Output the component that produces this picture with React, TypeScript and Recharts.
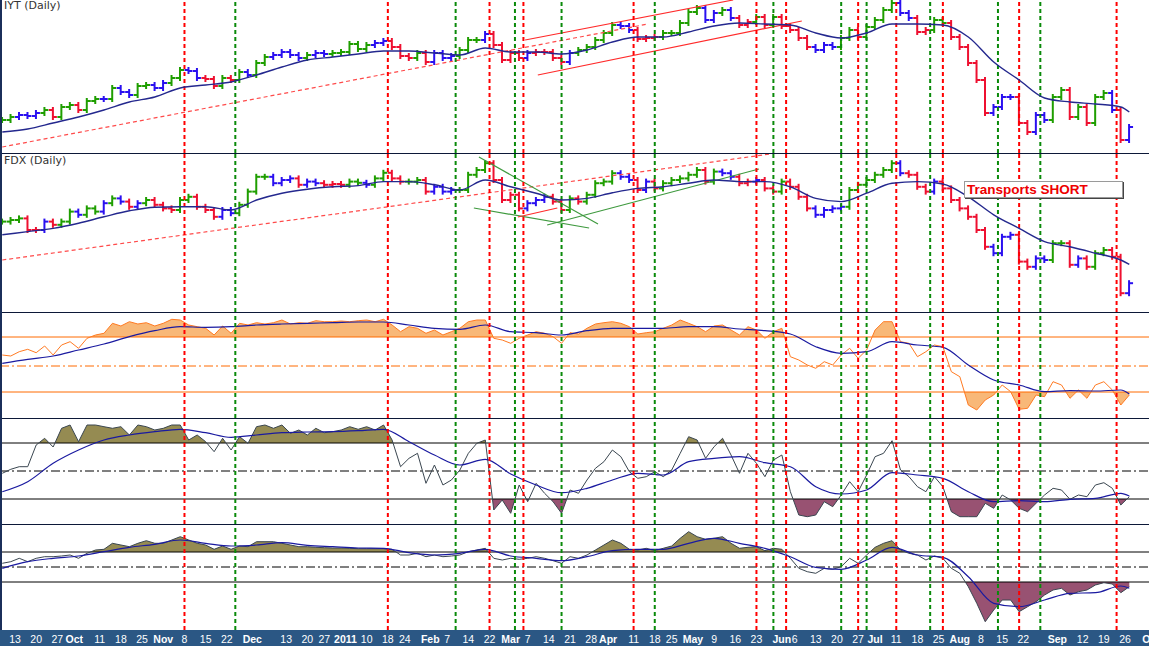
import React from "react";
import { ComposedChart, Line, Area, Bar, XAxis, YAxis, ReferenceLine } from "recharts";

// trading-day index 0 = 8 Sep 2010; bars sampled every 2 trading days
const BAR_STEP = 2;
const MA_STEP = 6;

const IYT_CLOSE = [
  83.0, 83.3, 83.5, 83.4, 83.7, 84.0, 83.3, 84.3, 84.5, 84.0,
  84.9, 85.1, 85.1, 86.2, 85.8, 85.5, 86.4, 86.5, 86.2, 86.7,
  87.2, 88.0, 87.9, 87.2, 87.1, 86.4, 87.2, 87.0, 87.8, 87.5,
  88.7, 89.3, 89.5, 89.8, 89.5, 89.2, 89.5, 89.7, 89.6, 89.7,
  89.8, 90.6, 90.1, 90.5, 90.7, 90.9, 90.3, 89.4, 89.2, 89.7,
  88.8, 89.7, 89.2, 89.4, 90.0, 91.0, 91.0, 91.6, 90.5, 89.0,
  89.7, 89.2, 89.7, 89.8, 89.8, 89.2, 88.8, 89.7, 90.0, 90.3,
  91.0, 91.7, 92.5, 92.4, 92.0, 91.1, 91.2, 91.3, 91.7, 91.7,
  92.7, 93.8, 94.2, 93.0, 93.7, 94.0, 93.2, 92.5, 92.8, 93.3,
  92.5, 93.3, 92.4, 92.0, 91.2, 90.3, 90.0, 90.5, 90.3, 91.2,
  92.0, 91.3, 92.3, 93.0, 94.0, 94.7, 93.7, 93.2, 91.8, 92.0,
  93.0, 92.7, 91.3, 90.3, 88.7, 87.0, 83.7, 84.3, 85.3, 85.3,
  82.7, 81.8, 83.5, 83.0, 85.3, 86.0, 83.3, 84.3, 82.7, 85.3,
  85.7, 84.0, 81.0, 82.3,
];
const IYT_COLORS =
  "ggbbbgrggr" + "ggbgbbggbb" + "ggbbrrgrgb" + "ggbbbbgbbg" + "ggggbbrrrg" +
  "rbbbgggbrr" + "rrbrrrrbgg" + "gggbbrrrgg" + "gggbbgbrrg" + "rgrrrrbbbg" +
  "grggggbbrr" + "ggrrrrrbbb" + "rrbbggrgrg" + "gbrb";
const IYT_MA = [
  81.8, 82.1, 82.7, 83.3, 84.0, 84.8, 85.3, 86.2, 86.5, 86.8,
  87.5, 88.3, 89.0, 89.3, 89.6, 89.9, 89.9, 89.7, 89.5, 90.2,
  89.8, 89.8, 89.6, 90.0, 90.8, 91.3, 91.3, 91.8, 92.4, 92.7,
  92.6, 92.5, 91.7, 91.2, 91.7, 92.6, 92.6, 92.5, 91.3, 88.8,
  87.0, 85.2, 84.8, 84.6, 84.3, 83.8,
];

const FDX_CLOSE = [
  74.6, 75.0, 75.4, 72.5, 72.5, 74.6, 73.8, 74.6, 77.1, 76.3,
  77.9, 77.1, 79.2, 80.4, 79.6, 78.3, 79.2, 80.0, 78.8, 77.9,
  77.5, 80.0, 80.8, 78.3, 77.5, 75.8, 77.5, 76.7, 78.8, 82.1,
  85.8, 85.8, 84.2, 85.0, 85.4, 83.8, 84.6, 84.2, 83.8, 84.0,
  83.8, 84.6, 84.3, 83.8, 85.4, 86.8, 85.4, 84.6, 84.6, 85.0,
  82.1, 83.3, 82.1, 82.5, 82.5, 86.3, 87.5, 89.2, 85.0, 80.0,
  81.3, 77.9, 79.2, 80.0, 80.8, 79.6, 77.5, 80.4, 79.6, 81.3,
  84.2, 84.6, 86.7, 85.8, 85.0, 82.5, 84.6, 82.9, 84.2, 85.0,
  85.4, 86.3, 87.5, 84.6, 87.1, 86.7, 85.8, 84.2, 84.6, 85.0,
  82.9, 82.1, 84.6, 83.3, 80.8, 77.9, 76.3, 77.5, 77.9, 78.3,
  82.5, 83.8, 85.0, 86.3, 87.5, 89.2, 86.7, 86.3, 83.3, 82.1,
  84.6, 82.9, 80.0, 77.9, 75.8, 72.5, 68.3, 66.7, 70.8, 71.3,
  64.6, 63.3, 65.4, 65.0, 69.2, 69.2, 63.8, 65.4, 63.3, 66.7,
  67.5, 65.8, 56.7, 59.2,
];
const FDX_COLORS =
  "gggrrbrggb" + "ggbgbrbgrr" + "rggrrrbbgg" + "ggbbbrbbrr" + "rggbggrrgg" +
  "rbbbggggrr" + "rrbbbrrgrg" + "gggbbrbrgg" + "gggrgbbrrb" + "rrgrrrbbbb" +
  "ggggggbrrr" + "brrrrrrbbb" + "rrbbggrbrg" + "grrb";
const FDX_MA = [
  71.3, 72.1, 72.9, 74.2, 75.8, 77.3, 78.2, 78.3, 78.3, 77.5,
  80.0, 81.7, 82.7, 83.3, 83.6, 84.6, 84.6, 83.8, 82.5, 85.0,
  83.3, 81.7, 80.0, 80.4, 81.8, 82.9, 83.3, 84.2, 85.0, 84.6,
  84.6, 83.3, 80.4, 79.6, 81.7, 84.2, 84.6, 84.0, 80.8, 76.3,
  72.9, 69.6, 68.3, 66.7, 65.0, 63.9,
];

const IND1 = [
  63, 62, 66.3, 68.7, 65.3, 72, 63, 73, 76.3, 69.7,
  79.7, 83, 84.7, 94.7, 92, 96.3, 94, 95.3, 92, 94.7,
  98.7, 98, 93, 91.3, 89.7, 83, 92, 84.7, 94.7, 93,
  95.3, 94, 95.3, 98, 94, 95.3, 94.7, 97.3, 96.3, 96.3,
  97, 96.3, 97.3, 98, 96.3, 98.7, 93, 86.3, 91.3, 89.7,
  84.7, 88, 83, 86.3, 89.7, 96.3, 98, 98, 79.7, 78,
  74.7, 79.7, 83, 86.3, 84.7, 81.3, 74.7, 85.3, 84, 89.7,
  94, 95.3, 96.3, 94.7, 91.3, 84, 85.3, 86.3, 89.7, 93,
  98, 94.7, 91.3, 86.3, 92, 93, 88, 83, 91.3, 88,
  79.7, 86.3, 89.7, 61.3, 58, 53, 49.7, 56.3, 53, 63,
  69.7, 59.7, 68, 88, 96.3, 96.3, 76.3, 74.7, 61.3, 66.3,
  73, 71.3, 46.3, 41.3, 13, 8, 18, 23, 33, 26.3,
  8.7, 9.7, 23, 21.3, 36.3, 33, 19.7, 28, 19.7, 33,
  36.3, 28, 13, 23,
];
const IND1_MA = [
  54.7, 58.7, 62, 68, 74, 81.3, 87.3, 91.3, 90.7, 91.3,
  93, 94, 94.7, 95.3, 96, 96, 93, 89.7, 88.7, 93,
  86.3, 85.3, 83, 87.3, 89.7, 89.7, 89.7, 91.3, 91.3, 89,
  87.3, 84, 71.3, 64.7, 66.3, 76.3, 73, 70.7, 53, 38,
  33, 26.3, 27.3, 27, 28, 24,
];

const IND2 = [
  50.7, 54.7, 57.3, 57.3, 79, 85.7, 77, 95.7, 99, 82.3,
  99, 99, 97.3, 95.7, 97.3, 89, 99, 97.3, 94, 95.7,
  99, 99, 84, 89, 82.3, 72.3, 85.7, 74, 87.3, 80.7,
  97.3, 99, 95.7, 99, 90.7, 94, 89, 95.7, 91.3, 92.3,
  94, 97.3, 94.7, 97.3, 94, 99, 84, 57.3, 65.7, 70.7,
  40.7, 59, 39, 44, 54, 70.7, 80.7, 84, 14, 24,
  10.7, 39, 22.3, 40.7, 30.7, 22.3, 10.7, 34, 30.7, 44,
  55.7, 62.3, 74, 67.3, 52.3, 45.7, 47.3, 52.3, 47.3, 54,
  70.7, 87.3, 84, 65.7, 77.3, 85.7, 69, 50.7, 70.7, 60.7,
  47.3, 64, 69, 32.3, 9, 7.3, 9, 22.3, 17.3, 29,
  42.3, 32.3, 49, 67.3, 70.7, 83.3, 54, 47.3, 37.3, 32.3,
  47.3, 37.3, 12.3, 7.3, 7.3, 7.3, 20.7, 15.7, 29, 24,
  15.7, 12.3, 20.7, 29, 35.7, 34, 24.7, 29, 27.3, 39,
  41.3, 35.7, 19, 27.3,
];
const IND2_MA = [
  32.3, 42.3, 60.7, 74, 84, 89, 92.3, 94.7, 91.3, 86.7,
  89, 91.3, 92, 92.3, 93.3, 94.7, 82.3, 69, 59, 64.7,
  50, 39, 31.3, 35.7, 44, 50.7, 49, 62.3, 65.7, 67.3,
  61.3, 57.3, 37.3, 30, 34, 51.3, 49, 45.7, 32.3, 22.3,
  23.3, 22.3, 24.7, 25.7, 30.7, 28,
];

const IND3 = [
  65.7, 67.3, 70.7, 67.3, 70.7, 72.3, 72.3, 73, 74, 70.7,
  75.7, 79, 79.7, 85.7, 84, 82.3, 85.7, 88.3, 85.7, 85.7,
  89, 92.3, 89, 85.7, 84, 79.7, 83, 79.7, 83, 82.3,
  87.3, 87.3, 87.3, 85.7, 84, 82.3, 82.3, 81.7, 81.3, 81,
  81, 80.7, 80.3, 80.3, 80.3, 80.3, 79.7, 74, 74, 75.7,
  72.3, 74, 72.3, 73, 74, 77.3, 79, 80.7, 70.7, 69,
  70.7, 69.7, 70.7, 72.3, 70.7, 68.3, 65.7, 72.3, 70.7, 74,
  79, 84, 89, 85.7, 79.7, 79, 80.7, 78.3, 80.7, 83,
  90.7, 97.3, 92.3, 89.7, 90.7, 92.3, 85.7, 80.7, 81.7, 82.3,
  78.3, 80.7, 79.7, 70.7, 60.7, 57.3, 55.7, 60.7, 59.7, 62.3,
  70.7, 65.7, 74, 81.7, 85.7, 88.3, 79, 75.7, 74, 69,
  73, 70.7, 60.7, 55.7, 42.3, 25.7, 7.3, 19, 29, 29,
  17.3, 22.3, 27.3, 34, 39, 40.7, 34, 37.3, 39, 44,
  46.3, 45, 36.3, 42.3,
];
const IND3_MA = [
  60.7, 67.3, 70.7, 73, 77.3, 81.7, 84.7, 89, 85.7, 83,
  84, 86.3, 83.7, 82.3, 81, 80.7, 76.3, 74, 75.7, 79.7,
  73, 70.7, 68.3, 72.3, 78.3, 79.7, 79.7, 85.7, 90.7, 85.7,
  80.7, 72.3, 61.7, 59.7, 69, 81.7, 74, 71.7, 52.3, 25.7,
  22.3, 29, 35.7, 36.3, 43, 40.7,
];

// signal days (trading-day index)
const RED_DAYS = [43, 91, 115, 123, 149, 178, 185, 202, 211, 222, 240, 263];
const GREEN_DAYS = [55, 107, 121, 132, 154, 182, 198, 204, 219, 235, 245];

const TICK_DAYS = [
  3, 8, 13, 17, 23, 28, 33, 38, 43, 48, 53, 59, 67, 72, 76, 81, 86, 91, 95, 101,
  105, 110, 115, 120, 124, 129, 134, 139, 143, 149, 154, 158, 163, 168, 173, 178,
  184, 187, 192, 197, 202, 206, 211, 216, 221, 226, 231, 236, 241, 249, 255, 260, 265, 270,
];
const TICK_LABELS = [
  "13", "20", "27", "Oct", "11", "18", "25", "Nov", "8", "15", "22", "Dec", "13", "20", "27", "2011", "10", "18", "24", "Feb",
  "7", "14", "22", "Mar", "7", "14", "21", "28", "Apr", "11", "18", "25", "May", "9", "16", "23",
  "Jun", "6", "13", "20", "27", "Jul", "11", "18", "25", "Aug", "8", "15", "22", "Sep", "12", "19", "26", "O",
];

// trend lines drawn on the price panels (day index, price)
const IYT_TRENDS = [
  { from: [0, 80.3], to: [152.4, 92.6], color: "#ff4a4a", dash: "4 3" },
  { from: [123.4, 91.0], to: [172.5, 95.0], color: "#ff2a2a", dash: undefined },
  { from: [126.4, 87.5], to: [188.7, 92.9], color: "#ff2a2a", dash: undefined },
];
const FDX_TRENDS = [
  { from: [0, 65.0], to: [181.2, 91.5], color: "#ff4a4a", dash: "4 3" },
  { from: [112.5, 90.75], to: [140.6, 74.0], color: "#3f9a3f", dash: undefined },
  { from: [111.3, 78.0], to: [138.5, 73.0], color: "#3f9a3f", dash: undefined },
  { from: [128.6, 73.75], to: [178.6, 87.75], color: "#3f9a3f", dash: undefined },
  { from: [121.7, 75.75], to: [131.0, 78.0], color: "#ff2a2a", dash: undefined },
];

const W = 1149;
const X_DOMAIN: [number, number] = [-0.54, 270.65];
const BAR_COLORS: Record<string, string> = { g: "#1f9e00", b: "#2a10f0", r: "#ee1030" };
const MA_COLOR = "#24288e";
const FONT = "'Liberation Sans', Arial, sans-serif";

const LAST_DAY = (IYT_CLOSE.length - 1) * BAR_STEP;

const rows: any[] = IYT_CLOSE.map((c, k) => {
  const io = k > 0 ? IYT_CLOSE[k - 1] : c;
  const f = FDX_CLOSE[k];
  const fo = k > 0 ? FDX_CLOSE[k - 1] : f;
  return {
    day: k * BAR_STEP,
    iytR: [Math.min(io, c), Math.max(io, c)],
    iytO: io,
    iytC: c,
    iytCol: IYT_COLORS[k],
    fdxR: [Math.min(fo, f), Math.max(fo, f)],
    fdxO: fo,
    fdxC: f,
    fdxCol: FDX_COLORS[k],
    ind1: IND1[k],
    ind2: IND2[k],
    ind3: IND3[k],
  };
});
IYT_MA.forEach((_, m) => {
  const row = rows[Math.min(m * MA_STEP, LAST_DAY) / BAR_STEP];
  row.iytMa = IYT_MA[m];
  row.fdxMa = FDX_MA[m];
  row.ind1Ma = IND1_MA[m];
  row.ind2Ma = IND2_MA[m];
  row.ind3Ma = IND3_MA[m];
});

const OhlcBar = (props: any) => {
  const { x, y, width, height, payload, tkr } = props;
  if (x == null || y == null || !payload) return null;
  const o = payload[tkr + "O"];
  const c = payload[tkr + "C"];
  const hi = Math.max(o, c);
  const lo = Math.min(o, c);
  const h = height || 0;
  const pos = (v: number) => (hi === lo ? y : y + ((hi - v) / (hi - lo)) * h);
  const cx = x + width / 2;
  const col = BAR_COLORS[payload[tkr + "Col"]] || BAR_COLORS.b;
  return (
    <g stroke={col} strokeWidth={2}>
      <line x1={cx} x2={cx} y1={y - 3} y2={y + h + 3} />
      <line x1={cx - 4} x2={cx} y1={pos(o)} y2={pos(o)} />
      <line x1={cx} x2={cx + 4} y1={pos(c)} y2={pos(c)} />
    </g>
  );
};

const signalLines = () => [
  ...RED_DAYS.map((d) => (
    <ReferenceLine key={"r" + d} x={d} stroke="#ff0000" strokeWidth={2} strokeDasharray="4 3" />
  )),
  ...GREEN_DAYS.map((d) => (
    <ReferenceLine key={"g" + d} x={d} stroke="#0a8a0a" strokeWidth={2} strokeDasharray="4 3" />
  )),
];

const PricePanel = ({ top, height, domain, tkr, trends }: any) => (
  <div style={{ position: "absolute", left: 0, top, width: W, height }}>
    <ComposedChart width={W} height={height} data={rows} margin={{ top: 0, right: 0, bottom: 0, left: 0 }}>
      <XAxis type="number" dataKey="day" domain={X_DOMAIN} allowDataOverflow hide />
      <YAxis type="number" domain={domain} allowDataOverflow hide />
      {trends.map((t: any, k: number) => (
        <ReferenceLine
          key={k}
          segment={[{ x: t.from[0], y: t.from[1] }, { x: t.to[0], y: t.to[1] }]}
          stroke={t.color}
          strokeWidth={1.2}
          strokeDasharray={t.dash}
          ifOverflow="hidden"
        />
      ))}
      {signalLines()}
      <Line
        type="monotone"
        dataKey={tkr + "Ma"}
        stroke={MA_COLOR}
        strokeWidth={1.4}
        dot={false}
        connectNulls
        isAnimationActive={false}
      />
      <Bar dataKey={tkr + "R"} barSize={4} isAnimationActive={false} shape={(p: any) => <OhlcBar {...p} tkr={tkr} />} />
    </ComposedChart>
  </div>
);

const AxisTick = (props: any) => {
  const { x, payload } = props;
  const k = TICK_DAYS.indexOf(payload.value);
  const label = TICK_LABELS[k] ?? "";
  const bold = /[A-Za-z]/.test(label) || label.length === 4;
  return (
    <text x={x} y={119} textAnchor="middle" fill="#ffffff" fontSize={10.5} fontWeight={bold ? 700 : 400} fontFamily={FONT}>
      {label}
    </text>
  );
};

const IndicatorPanel = ({
  id, top, domain, vKey, maKey, upTh, midTh, lowTh, upFill, lowFill, lineColor, refColor, withAxis,
}: any) => {
  const plotH = 106;
  const frac = (th: number) => (domain[1] - th) / (domain[1] - domain[0]);
  const height = withAxis ? plotH + 16 : plotH;
  return (
    <div style={{ position: "absolute", left: 0, top, width: W, height }}>
      <ComposedChart width={W} height={height} data={rows} margin={{ top: 0, right: 0, bottom: 0, left: 0 }}>
        <defs>
          <linearGradient id={id + "up"} x1="0" y1="0" x2="0" y2={plotH} gradientUnits="userSpaceOnUse">
            <stop offset={frac(upTh)} stopColor={upFill} stopOpacity={1} />
            <stop offset={frac(upTh)} stopColor={upFill} stopOpacity={0} />
          </linearGradient>
          <linearGradient id={id + "low"} x1="0" y1="0" x2="0" y2={plotH} gradientUnits="userSpaceOnUse">
            <stop offset={frac(lowTh)} stopColor={lowFill} stopOpacity={0} />
            <stop offset={frac(lowTh)} stopColor={lowFill} stopOpacity={1} />
          </linearGradient>
        </defs>
        <XAxis
          type="number"
          dataKey="day"
          domain={X_DOMAIN}
          allowDataOverflow
          hide={!withAxis}
          height={16}
          ticks={TICK_DAYS}
          interval={0}
          axisLine={false}
          tickLine={false}
          tick={<AxisTick />}
        />
        <YAxis type="number" domain={domain} allowDataOverflow hide />
        <ReferenceLine y={upTh} stroke={refColor} strokeWidth={1} />
        <ReferenceLine y={midTh} stroke={refColor} strokeWidth={1} strokeDasharray="9 3 2 3" />
        <ReferenceLine y={lowTh} stroke={refColor} strokeWidth={1} />
        <Area type="linear" dataKey={vKey} baseValue={upTh} stroke="none" fill={`url(#${id}up)`} fillOpacity={1} isAnimationActive={false} />
        <Area type="linear" dataKey={vKey} baseValue={lowTh} stroke="none" fill={`url(#${id}low)`} fillOpacity={1} isAnimationActive={false} />
        <Line type="linear" dataKey={vKey} stroke={lineColor} strokeWidth={1} dot={false} isAnimationActive={false} />
        <Line
          type="monotone"
          dataKey={maKey}
          stroke="#1a1aa0"
          strokeWidth={1.2}
          dot={false}
          connectNulls
          isAnimationActive={false}
        />
        {signalLines()}
      </ComposedChart>
    </div>
  );
};

const hLine = (top: number) => (
  <div key={top} style={{ position: "absolute", left: 0, top, width: W, height: 1, background: "#0c1838" }} />
);

export default function App() {
  return (
    <div style={{ position: "relative", width: W, height: 646, background: "#fff", overflow: "hidden" }}>
      <style>{"body{margin:0;background:#fff}"}</style>
      <div style={{ position: "absolute", left: 0, top: 630, width: W, height: 16, background: "#2b5784" }} />
      <PricePanel top={0} height={153} domain={[79.7, 95]} tkr="iyt" trends={IYT_TRENDS} />
      <PricePanel top={153} height={159} domain={[52, 91.75]} tkr="fdx" trends={FDX_TRENDS} />
      <IndicatorPanel
        id="p3" top={312} domain={[0, 106]} vKey="ind1" maKey="ind1Ma"
        upTh={81} midTh={52} lowTh={26} upFill="#f8b878" lowFill="#f8b878" lineColor="#ff7a22" refColor="#ff6a00"
      />
      <IndicatorPanel
        id="p4" top={418} domain={[0, 106]} vKey="ind2" maKey="ind2Ma"
        upTh={81} midTh={53} lowTh={25} upFill="#958b52" lowFill="#985272" lineColor="#3a4650" refColor="#000000"
      />
      <IndicatorPanel
        id="p5" top={524} domain={[-1, 105]} vKey="ind3" maKey="ind3Ma"
        upTh={77} midTh={62} lowTh={47} upFill="#958b52" lowFill="#985272" lineColor="#3a4650" refColor="#000000" withAxis
      />
      {[153, 312, 418, 524].map(hLine)}
      <div style={{ position: "absolute", left: 0, top: 0, width: 2, height: 630, background: "#1b2f5a" }} />
      <div style={{ position: "absolute", left: 4, top: 0, lineHeight: "12px", fontFamily: "'DejaVu Sans', Verdana, sans-serif", fontSize: 11, color: "#333" }}>
        IYT (Daily)
      </div>
      <div style={{ position: "absolute", left: 4, top: 155, lineHeight: "12px", fontFamily: "'DejaVu Sans', Verdana, sans-serif", fontSize: 11, color: "#333" }}>
        FDX (Daily)
      </div>
      <div
        style={{
          position: "absolute", left: 964, top: 181, width: 155, height: 15, lineHeight: "15px",
          background: "#fff", border: "1px solid #9a9a9a", boxShadow: "1px 1px 0 #444",
          color: "#ee0000", fontFamily: FONT, fontWeight: 700, fontSize: 13.5, paddingLeft: 2, boxSizing: "content-box",
        }}
      >
        Transports SHORT
      </div>
    </div>
  );
}
